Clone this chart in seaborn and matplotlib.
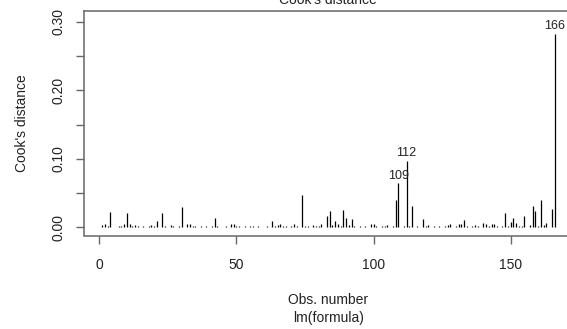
import numpy as np
import pandas as pd
import seaborn as sns
import matplotlib
matplotlib.use("Agg")
import matplotlib.pyplot as plt

# Cook's distance for each observation of the fitted linear model
cooks_d = [
    0.003, 0.005, 0.002, 0.022, 0.001, 0.001, 0.002, 0.002, 0.005, 0.021,
    0.004, 0.002, 0.003, 0.002, 0.001, 0.002, 0.001, 0.002, 0.003, 0.002,
    0.009, 0.001, 0.020, 0.002, 0.001, 0.003, 0.002, 0.001, 0.002, 0.030,
    0.001, 0.005, 0.004, 0.002, 0.002, 0.001, 0.002, 0.001, 0.002, 0.001,
    0.002, 0.013, 0.002, 0.001, 0.001, 0.002, 0.001, 0.005, 0.004, 0.002,
    0.002, 0.001, 0.002, 0.001, 0.002, 0.002, 0.001, 0.002, 0.001, 0.001,
    0.002, 0.001, 0.009, 0.002, 0.003, 0.005, 0.002, 0.002, 0.001, 0.002,
    0.005, 0.002, 0.001, 0.047, 0.002, 0.002, 0.001, 0.003, 0.002, 0.002,
    0.004, 0.001, 0.016, 0.023, 0.003, 0.009, 0.004, 0.002, 0.025, 0.014,
    0.003, 0.012, 0.002, 0.001, 0.002, 0.001, 0.002, 0.001, 0.004, 0.004,
    0.002, 0.001, 0.002, 0.002, 0.003, 0.001, 0.002, 0.040, 0.064, 0.001,
    0.002, 0.0966, 0.002, 0.031, 0.001, 0.002, 0.001, 0.012, 0.002, 0.003,
    0.001, 0.002, 0.001, 0.002, 0.001, 0.002, 0.003, 0.004, 0.001, 0.002,
    0.004, 0.004, 0.011, 0.002, 0.001, 0.002, 0.003, 0.002, 0.001, 0.006,
    0.004, 0.002, 0.004, 0.004, 0.002, 0.001, 0.002, 0.021, 0.002, 0.007,
    0.013, 0.006, 0.002, 0.002, 0.017, 0.001, 0.003, 0.031, 0.023, 0.002,
    0.039, 0.003, 0.006, 0.001, 0.026, 0.2825,
]
obs_number = list(range(1, len(cooks_d) + 1))
x_ticks = [0, 50, 100, 150]
y_major = [0.00, 0.10, 0.20, 0.30]
y_minor = [0.05, 0.15, 0.25]
n_labelled = 3

df = pd.DataFrame({"obs": obs_number, "cook": cooks_d})

sns.set_theme(style="white")
plt.rcParams["font.family"] = ["Liberation Sans", "DejaVu Sans"]

W, H = 567, 329
fig = plt.figure(figsize=(W / 100, H / 100), dpi=100)
left, right, top, bottom = 84, 572.7, 11, 235.5
ax = fig.add_axes([left / W, 1 - bottom / H, (right - left) / W, (bottom - top) / H])

ink = "#222222"
frame = "#666666"

ax.vlines(df["obs"], 0, df["cook"], color="black", linewidth=0.9)

# R-style limits: 4% padding around the data range
n = len(df)
xr = n - 1
ax.set_xlim(1 - 0.04 * xr, n + 0.04 * xr)
ytop = df["cook"].max() * 1.075
ax.set_ylim(-0.04 * ytop, ytop * 1.04)

# labels for the most influential observations
for _, row in df.nlargest(n_labelled, "cook").iterrows():
    ax.annotate(str(int(row["obs"])), (row["obs"], row["cook"]),
                xytext=(0, 5.6), textcoords="offset points",
                ha="center", va="center", fontsize=9, color=ink)

ax.set_xticks(x_ticks)
ax.set_xticklabels([str(v) for v in x_ticks])
ax.set_yticks(y_major)
ax.set_yticklabels([f"{v:.2f}" for v in y_major], rotation=90, va="center")
ax.set_yticks(y_minor, minor=True)

ax.tick_params(axis="both", which="both", direction="out", length=6,
               width=1.0, color=frame, labelsize=10, labelcolor=ink,
               left=True, bottom=True)
ax.tick_params(axis="x", pad=10)
ax.tick_params(axis="y", pad=7.5)

for sp in ax.spines.values():
    sp.set_visible(True)
    sp.set_color(frame)
    sp.set_linewidth(1.1)

ax.set_ylabel("Cook's distance", fontsize=10, color=ink)
ax.yaxis.set_label_coords((21.7 - left) / (right - left), 0.5)
ax.set_xlabel("Obs. number", fontsize=10, color=ink)
ax.xaxis.set_label_coords(0.5, -(300 - bottom) / (bottom - top))
ax.xaxis.label.set_va("center")
ax.yaxis.label.set_va("center")

cx = (left + right) / 2 / W
fig.text(cx, 1 - 318 / H, "lm(formula)", ha="center", va="center",
         fontsize=10, color=ink)
fig.text(cx, 1 - 4 / H, "Cook's distance", ha="center", va="baseline",
         fontsize=10, color=ink)

fig.savefig("out.png", dpi=100, facecolor="white")
